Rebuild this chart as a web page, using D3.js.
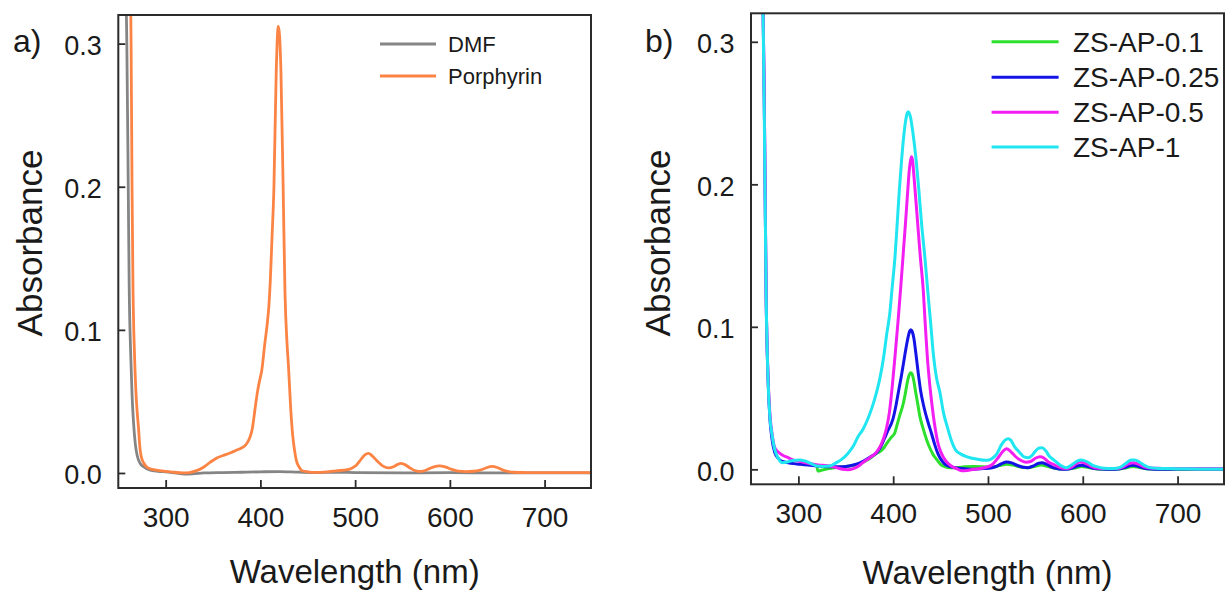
<!DOCTYPE html>
<html>
<head>
<meta charset="utf-8">
<script src="https://cdn.jsdelivr.net/npm/d3@7"></script>
<style>
  body { margin: 0; background: #fff; }
  svg { display: block; }
  text { font-family: "Liberation Sans", Arial, Helvetica, sans-serif; fill: #1a1a1a; }
</style>
</head>
<body>
<svg id="chart" width="1227" height="592"></svg>
<script>
// ---- axis settings ----
const xTicks = [300, 400, 500, 600, 700];
const yTicks = [0, 0.1, 0.2, 0.3];
const yTickLabels = ["0.0", "0.1", "0.2", "0.3"];
const xDomain = [250, 749];
const yDomain = [-0.0105, 0.32];

// ---- panel a: UV-vis spectra [wavelength nm, absorbance] ----
const dmf = [
  [257,0.36],[259,0.30],[260.5,0.2],[261.5,0.13],[263,0.085],[264.5,0.055],[266,0.036],
  [268,0.02],[270,0.012],[273,0.0068],[277,0.0042],[283,0.0022],[292,0.0012],[300,0.0008],
  [310,0.0],[320,-0.0008],[330,-0.0005],[340,0.0],[360,0.0003],[380,0.0005],[400,0.0008],
  [420,0.001],[440,0.0006],[460,0.0003],[480,0.0005],[500,0.0003],[550,0.0],[600,0.0002],
  [650,0.0],[700,0.0],[750,0.0]
];
const porphyrin = [
  [262,0.36],[263.5,0.30],[264.5,0.2],[265.5,0.13],[267,0.085],[268.5,0.058],[270,0.042],
  [271.5,0.03],[272.5,0.02],[274,0.012],[277,0.0068],[280,0.0042],[286,0.0025],[294,0.0016],
  [305,0.0008],[318.6,0.0],[325,0.0003],[332.7,0.0016],[340,0.004],[346.8,0.0074],[354,0.0105],
  [360.8,0.0122],[368,0.014],[375,0.016],[380,0.0175],[383.7,0.019],[387,0.022],[389.5,0.026],
  [391.5,0.031],[393,0.038],[395,0.048],[397,0.057],[399,0.064],[401.5,0.072],[404.6,0.09],
  [407,0.103],[409,0.117],[410.5,0.135],[412.3,0.165],[414.3,0.2],[416.7,0.28],[418.9,0.312],
  [420.2,0.306],[421.7,0.28],[424,0.2],[426,0.125],[428,0.092],[429.7,0.074],[432,0.045],
  [434,0.027],[436,0.016],[438,0.0086],[441,0.004],[444,0.0016],[450,0.0008],[458.7,0.0004],
  [470,0.0008],[480,0.0015],[492,0.0023],[497,0.0035],[500.6,0.005],[505,0.0085],[510,0.0125],
  [514,0.0137],[518,0.012],[523,0.0085],[529,0.005],[535.7,0.0035],[541,0.0045],[545,0.006],
  [548.4,0.0067],[552,0.006],[558,0.0035],[563,0.0017],[567,0.0011],[573,0.0015],[579,0.0032],
  [584,0.0045],[589,0.0049],[595,0.0042],[602,0.0025],[609,0.0013],[617,0.001],[625,0.0012],
  [632,0.002],[638,0.0035],[644.4,0.0046],[650,0.0038],[656,0.002],[662,0.001],[668,0.0005],
  [680,0.0003],[700,0.0002],[720,0.0002],[750,0.0002]
];

// ---- panel b: ZS-AP samples ----
const zsAP01 = [
  [319.5,0.0025],[320.5,-0.0012],[325,-0.0005],[332,0.0005],[340,0.0012],[348,0.0018],
  [356,0.0025],[363,0.0035],[370,0.0055],[376,0.008],[382,0.011],[386,0.0125],[390,0.015],
  [394,0.019],[398,0.0225],[401.8,0.0257],[404,0.031],[407,0.038],[410.6,0.046],[413,0.054],
  [415.5,0.063],[417.3,0.0668],[418.6,0.0677],[420,0.0668],[421.8,0.062],[424,0.053],[426.4,0.044],
  [428.2,0.037],[431,0.03],[435.2,0.021],[438,0.016],[442,0.0105],[445.8,0.007],[450,0.0035],
  [455,0.0018],[460,0.0012],[467,0.0012],[475,0.0018],[485,0.002],[495,0.0018],[503,0.0015],
  [510,0.0022],[515,0.003],[520,0.0035],[526,0.003],[533,0.0018],[542,0.0012],[550,0.0022],
  [556,0.003],[562,0.0022],[570,0.0008],[582,0.0002],[592,0.001],[599,0.002],[606,0.0012],
  [615,0.0003],[630,0.0],[645,0.001],[653,0.002],[660,0.0012],[670,0.0003],[690,0.0],
  [720,0.0002],[750,0.0003]
];
const zsAP025 = [
  [262,0.36],[264,0.26],[266,0.12],[268,0.063],[270,0.035],[272,0.022],[275,0.012],[279,0.0075],
  [283,0.0055],[288,0.0048],[295,0.004],[302,0.0035],[310,0.003],[318,0.0025],[326,0.002],
  [334,0.0018],[342,0.0018],[350,0.002],[358,0.003],[365,0.0045],[372,0.007],[378,0.0095],
  [383,0.012],[387,0.016],[391,0.022],[395,0.028],[398,0.032],[400,0.036],[403,0.045],[406,0.056],
  [408.5,0.065],[411,0.075],[413.5,0.085],[415.8,0.093],[417.3,0.0968],[418.6,0.098],[420,0.0968],
  [421.8,0.092],[424,0.081],[426.4,0.0677],[429,0.055],[432,0.045],[436.9,0.0327],[440.5,0.025],
  [444,0.017],[447.5,0.0105],[452,0.0055],[456,0.003],[460,0.002],[467,0.001],[475,0.0005],
  [485,0.0],[495,0.0005],[503,0.001],[510,0.0025],[515,0.0042],[519.6,0.0051],[525,0.0045],
  [531,0.0028],[537,0.0015],[542.4,0.0012],[548,0.0025],[553,0.0042],[557,0.0047],[562,0.0035],
  [568.7,0.0012],[575,0.0003],[582.8,0.0],[590,0.0012],[595,0.0025],[599,0.0028],[604,0.0022],
  [611,0.0008],[620,0.0002],[630,0.0],[638,0.0003],[645,0.0015],[650,0.0026],[654,0.0028],
  [659,0.002],[665,0.0008],[672,0.0002],[680,0.0],[700,0.0002],[725,0.0003],[750,0.0003]
];
const zsAP05 = [
  [262,0.36],[264,0.26],[266,0.12],[268,0.065],[270,0.038],[272,0.026],[275,0.0152],[279,0.012],
  [283,0.01],[288,0.0085],[295,0.0065],[302,0.0055],[309,0.0045],[316,0.0035],[325,0.0028],
  [333,0.0023],[340,0.0012],[347,0.0],[352,-0.0003],[358,0.0005],[364,0.0025],[368,0.0047],
  [375,0.008],[382,0.0117],[387,0.017],[390,0.022],[393,0.029],[396,0.04],[399,0.058],[402,0.08],
  [405,0.103],[408,0.128],[411,0.155],[413,0.173],[415,0.192],[417,0.21],[418.4,0.217],
  [419.4,0.2194],[420.4,0.217],[422,0.205],[423.8,0.19],[425.8,0.173],[428.5,0.15],[431.7,0.126],
  [434,0.1],[436,0.079],[438.5,0.06],[441,0.045],[444,0.03],[447,0.019],[451,0.011],[456,0.0055],
  [462,0.002],[467,0.0005],[472,-0.001],[478,-0.0008],[485,0.0],[492,0.0006],[498,0.0015],
  [504,0.003],[510,0.0075],[515,0.012],[519.6,0.0145],[524,0.0125],[529,0.009],[534,0.0065],
  [540,0.005],[545,0.0055],[550,0.0078],[555,0.0089],[559,0.008],[564,0.005],[569,0.0035],
  [575,0.0015],[582,0.0005],[588,0.0015],[593,0.004],[597,0.0051],[602,0.0045],[608,0.0025],
  [614,0.001],[625,0.0005],[635,0.0005],[642,0.0015],[648,0.0038],[653,0.0047],[658,0.0038],
  [664,0.002],[671,0.001],[680,0.0007],[700,0.0006],[725,0.0005],[750,0.0005]
];
const zsAP1 = [
  [262,0.36],[264,0.25],[266,0.12],[268,0.062],[270,0.036],[272,0.025],[275,0.014],[279,0.0075],
  [283,0.0047],[287,0.005],[292,0.0058],[297,0.0063],[302,0.0065],[306,0.006],[310,0.0051],
  [315,0.0035],[319.3,0.0023],[326,0.002],[333,0.0023],[340,0.0047],[345.6,0.007],[352,0.011],
  [358,0.0163],[363,0.023],[368,0.028],[373,0.035],[378,0.044],[382,0.053],[386,0.064],[390,0.079],
  [393,0.094],[396.5,0.11],[399,0.128],[402,0.15],[404,0.17],[406.5,0.196],[409,0.218],[411,0.233],
  [413,0.244],[414.6,0.2495],[415.9,0.251],[417.2,0.2495],[418.6,0.246],[420,0.24],[422,0.23],
  [424.5,0.215],[427.1,0.196],[430,0.172],[433.4,0.149],[436.5,0.125],[439.5,0.103],[442.5,0.08],
  [445.5,0.065],[449.3,0.054],[453,0.04],[457,0.03],[461,0.021],[466,0.0135],[472,0.0105],
  [478,0.0088],[488,0.0072],[498.5,0.0063],[504,0.0075],[509,0.0105],[514,0.017],[518,0.0205],
  [521.3,0.0215],[524,0.0205],[528,0.016],[533.6,0.0117],[538,0.0088],[542.4,0.0082],[546,0.0095],
  [550,0.0128],[554,0.015],[557,0.0152],[561,0.013],[565,0.009],[568.7,0.007],[575,0.0035],
  [582.8,0.0012],[588,0.003],[594,0.0058],[598.6,0.0065],[604,0.0055],[610,0.003],[614.5,0.0019],
  [622,0.0008],[632,0.0005],[640,0.0015],[646,0.0045],[651,0.0065],[655,0.0065],[660,0.005],
  [665,0.0028],[670.7,0.0012],[680,0.0006],[688,0.0005],[700,0.0004],[725,0.0003],[750,0.0003]
];

const legendA = ["DMF", "Porphyrin"];
const legendB = ["ZS-AP-0.1", "ZS-AP-0.25", "ZS-AP-0.5", "ZS-AP-1"];

const svg = d3.select("#chart");
svg.append("rect").attr("width", 1227).attr("height", 592).attr("fill", "#fff");

const FRAME = "#2b2b2b";

function drawPanel(p) {
  const x = d3.scaleLinear().domain(xDomain).range([p.left, p.right]);
  const y = d3.scaleLinear().domain(yDomain).range([p.bottom, p.top]);
  const g = svg.append("g");

  const clipId = "clip-" + p.id;
  g.append("clipPath").attr("id", clipId)
    .append("rect")
    .attr("x", p.left).attr("y", p.top)
    .attr("width", p.right - p.left).attr("height", p.bottom - p.top);

  // spectra
  const line = d3.line().x(d => x(d[0])).y(d => y(d[1])).curve(d3.curveMonotoneX);
  const lines = g.append("g").attr("clip-path", `url(#${clipId})`);
  p.series.forEach(s => {
    lines.append("path").datum(s.data)
      .attr("d", line)
      .attr("fill", "none")
      .attr("stroke", s.color)
      .attr("stroke-width", p.lineWidth)
      .attr("stroke-linejoin", "round")
      .attr("stroke-linecap", "round");
  });

  // bottom axis, ticks pointing inward
  const xAxis = d3.axisBottom(x).tickValues(xTicks).tickFormat(d3.format("d"))
    .tickSizeInner(-8).tickSizeOuter(0).tickPadding(19);
  g.append("g").attr("transform", `translate(0,${p.bottom})`).call(xAxis)
    .call(a => a.select(".domain").remove())
    .call(a => a.selectAll(".tick line").attr("stroke", FRAME).attr("stroke-width", 1.8))
    .call(a => a.selectAll(".tick text")
      .attr("font-size", 28).attr("fill", "#1a1a1a")
      .attr("font-family", "'Liberation Sans', Arial, sans-serif"));

  // left axis, ticks pointing inward
  const yAxis = d3.axisLeft(y).tickValues(yTicks)
    .tickFormat((d, i) => yTickLabels[i])
    .tickSizeInner(-7).tickSizeOuter(0).tickPadding(16.5);
  g.append("g").attr("transform", `translate(${p.left},0)`).call(yAxis)
    .call(a => a.select(".domain").remove())
    .call(a => a.selectAll(".tick line").attr("stroke", FRAME).attr("stroke-width", 1.8))
    .call(a => a.selectAll(".tick text")
      .attr("font-size", 27).attr("dy", "0.4em").attr("fill", "#1a1a1a")
      .attr("font-family", "'Liberation Sans', Arial, sans-serif"));

  // frame
  g.append("rect")
    .attr("x", p.left).attr("y", p.top)
    .attr("width", p.right - p.left).attr("height", p.bottom - p.top)
    .attr("fill", "none").attr("stroke", FRAME).attr("stroke-width", 2);

  // axis titles
  g.append("text")
    .attr("x", (p.left + p.right) / 2).attr("y", p.titleY)
    .attr("text-anchor", "middle").attr("font-size", 33)
    .text("Wavelength (nm)");
  g.append("text")
    .attr("transform", `translate(${p.yTitleX},243) rotate(-90)`)
    .attr("text-anchor", "middle").attr("font-size", 35)
    .text("Absorbance");

  // panel label
  g.append("text")
    .attr("x", p.labelX).attr("y", 52)
    .attr("font-size", 32)
    .text(p.label);

  // legend
  const lg = g.append("g");
  p.series.forEach((s, i) => {
    const ly = p.legend.ys[i];
    lg.append("line")
      .attr("x1", p.legend.x1).attr("x2", p.legend.x2)
      .attr("y1", ly).attr("y2", ly)
      .attr("stroke", s.color).attr("stroke-width", p.lineWidth);
    lg.append("text")
      .attr("x", p.legend.textX).attr("y", ly).attr("dy", "0.36em")
      .attr("font-size", p.legend.fontSize)
      .text(p.names[i]);
  });
}

drawPanel({
  id: "a", label: "a)", labelX: 13,
  left: 118.3, right: 591, top: 15, bottom: 488,
  titleY: 583, yTitleX: 42, lineWidth: 2.8,
  series: [
    { data: dmf, color: "#858585" },
    { data: porphyrin, color: "#fb8444" }
  ],
  names: legendA,
  legend: { x1: 380, x2: 436, textX: 448, ys: [44, 76], fontSize: 22 }
});

drawPanel({
  id: "b", label: "b)", labelX: 645,
  left: 751, right: 1224, top: 13.3, bottom: 484.3,
  titleY: 584, yTitleX: 670, lineWidth: 3,
  series: [
    { data: zsAP01, color: "#2ee02e" },
    { data: zsAP025, color: "#1414e6" },
    { data: zsAP05, color: "#f21ef2" },
    { data: zsAP1, color: "#1fe6f0" }
  ],
  names: legendB,
  legend: { x1: 991.6, x2: 1058.6, textX: 1073, ys: [41.7, 77.3, 112.3, 147], fontSize: 28 }
});
</script>
</body>
</html>
